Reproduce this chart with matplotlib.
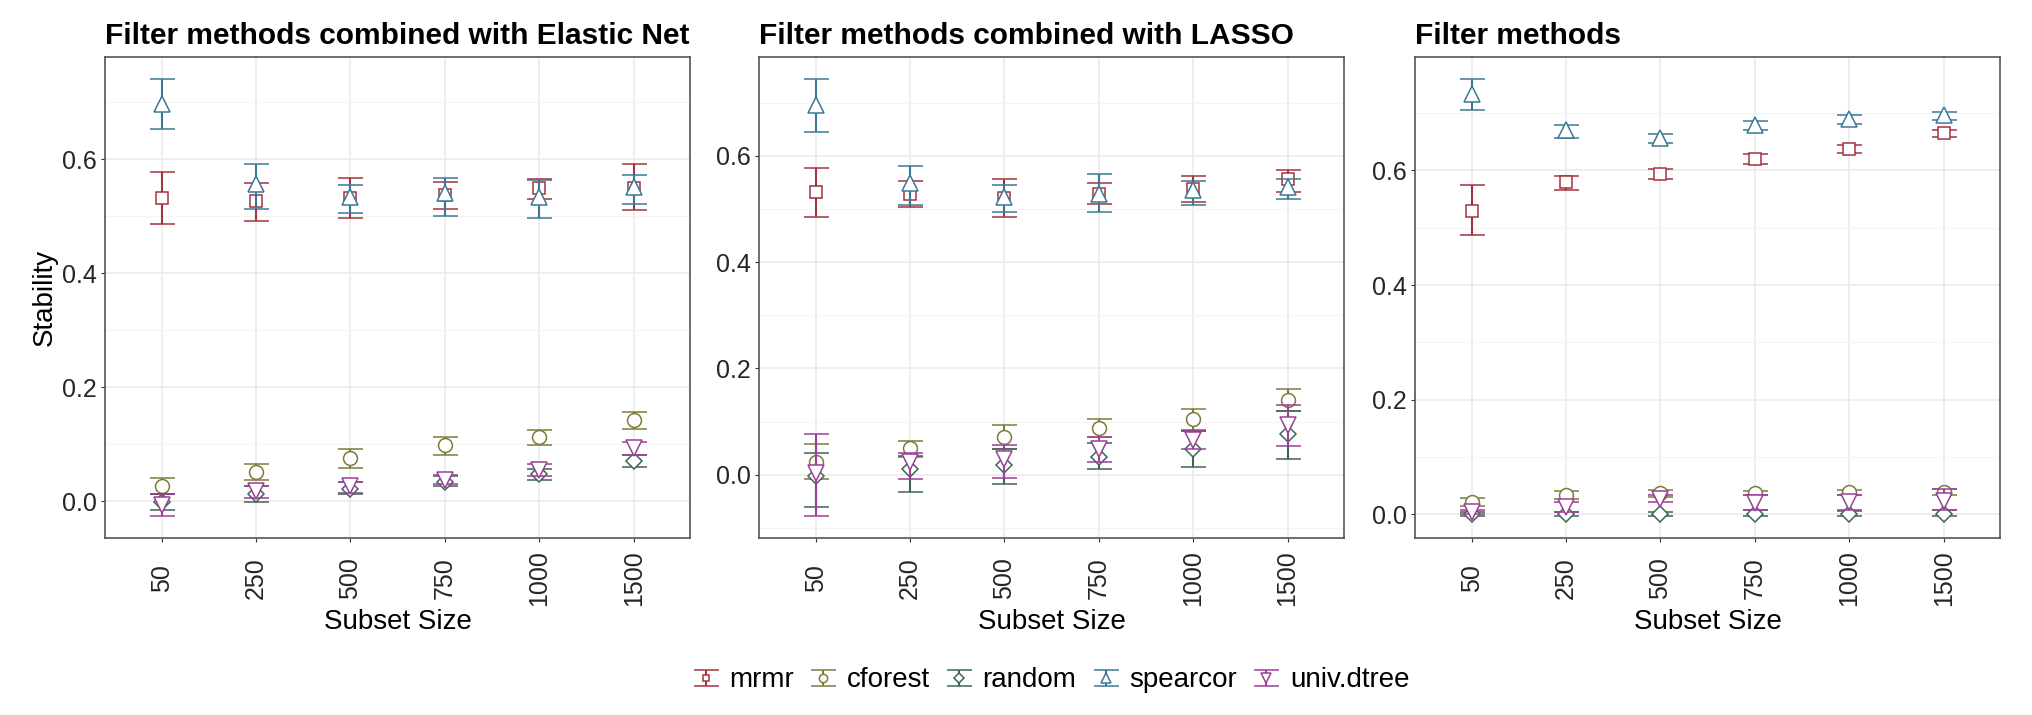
import numpy as np
import matplotlib
matplotlib.use("Agg")
from matplotlib import pyplot as plt
from matplotlib.ticker import FixedLocator, MultipleLocator
from matplotlib.container import ErrorbarContainer
from matplotlib.legend_handler import HandlerErrorbar

plt.rcParams['font.family'] = ['Liberation Sans', 'DejaVu Sans']

subset_sizes = ["50", "250", "500", "750", "1000", "1500"]
methods = ["mrmr", "cforest", "random", "spearcor", "univ.dtree"]
titles = ["Filter methods combined with Elastic Net",
          "Filter methods combined with LASSO",
          "Filter methods"]

# rows follow `methods`, columns follow `subset_sizes`
en_mean = [[0.532, 0.527, 0.532, 0.537, 0.550, 0.550],
           [0.027, 0.051, 0.076, 0.098, 0.113, 0.142],
           [-0.002, 0.012, 0.022, 0.034, 0.047, 0.071],
           [0.697, 0.557, 0.534, 0.540, 0.534, 0.552],
           [-0.007, 0.018, 0.027, 0.038, 0.055, 0.094]]
en_lo = [[0.486, 0.492, 0.496, 0.513, 0.530, 0.510],
         [0.013, 0.037, 0.059, 0.082, 0.099, 0.126],
         [-0.015, -0.002, 0.013, 0.026, 0.038, 0.060],
         [0.653, 0.512, 0.505, 0.501, 0.496, 0.521],
         [-0.026, 0.006, 0.015, 0.030, 0.044, 0.082]]
en_hi = [[0.578, 0.559, 0.567, 0.560, 0.565, 0.591],
         [0.040, 0.065, 0.092, 0.113, 0.125, 0.157],
         [0.012, 0.026, 0.033, 0.044, 0.056, 0.082],
         [0.740, 0.591, 0.555, 0.567, 0.563, 0.573],
         [0.012, 0.027, 0.034, 0.046, 0.065, 0.104]]

lasso_mean = [[0.532, 0.529, 0.520, 0.529, 0.538, 0.557],
              [0.024, 0.051, 0.071, 0.088, 0.104, 0.140],
              [-0.003, 0.010, 0.018, 0.034, 0.048, 0.076],
              [0.695, 0.548, 0.523, 0.529, 0.535, 0.542],
              [0.004, 0.023, 0.030, 0.048, 0.066, 0.094]]
lasso_lo = [[0.485, 0.504, 0.484, 0.509, 0.514, 0.532],
            [-0.008, 0.034, 0.048, 0.071, 0.083, 0.119],
            [-0.060, -0.033, -0.018, 0.010, 0.014, 0.030],
            [0.644, 0.507, 0.495, 0.495, 0.507, 0.519],
            [-0.078, -0.009, -0.006, 0.023, 0.048, 0.054]]
lasso_hi = [[0.578, 0.552, 0.556, 0.548, 0.562, 0.574],
            [0.058, 0.064, 0.093, 0.104, 0.123, 0.161],
            [0.040, 0.035, 0.048, 0.060, 0.083, 0.119],
            [0.744, 0.581, 0.546, 0.566, 0.552, 0.556],
            [0.077, 0.041, 0.056, 0.071, 0.085, 0.132]]

filt_mean = [[0.530, 0.580, 0.594, 0.620, 0.638, 0.665],
             [0.022, 0.034, 0.037, 0.037, 0.039, 0.039],
             [0.000, 0.000, 0.000, 0.000, 0.000, 0.000],
             [0.734, 0.670, 0.657, 0.680, 0.690, 0.696],
             [0.004, 0.013, 0.027, 0.020, 0.022, 0.024]]
filt_lo = [[0.487, 0.566, 0.585, 0.612, 0.631, 0.658],
           [0.014, 0.027, 0.030, 0.033, 0.033, 0.033],
           [-0.003, -0.002, -0.002, -0.002, -0.002, -0.002],
           [0.705, 0.657, 0.648, 0.670, 0.681, 0.688],
           [0.000, 0.004, 0.022, 0.008, 0.008, 0.008]]
filt_hi = [[0.575, 0.591, 0.603, 0.628, 0.644, 0.671],
           [0.029, 0.041, 0.042, 0.041, 0.043, 0.045],
           [0.004, 0.004, 0.005, 0.008, 0.006, 0.008],
           [0.759, 0.680, 0.664, 0.687, 0.696, 0.702],
           [0.008, 0.022, 0.033, 0.033, 0.033, 0.045]]

colors = ["#a3343e", "#7d7a3a", "#3d6657", "#3b7896", "#9c3f98"]
markers = ["s", "o", "D", "^", "v"]
msizes = [8, 10, 8, 11, 11]

panels = [(en_mean, en_lo, en_hi),
          (lasso_mean, lasso_lo, lasso_hi),
          (filt_mean, filt_lo, filt_hi)]

fig = plt.figure(figsize=(20.32, 7.15), dpi=100)
lefts = [0.0517, 0.3735, 0.6964]
width = 0.288
bottom = 0.2476
height = 0.672

x = np.arange(len(subset_sizes))
handles = []
for p, (mean, lo, hi) in enumerate(panels):
    ax = fig.add_axes([lefts[p], bottom, width, height])
    mean = np.array(mean)
    lo = np.array(lo)
    hi = np.array(hi)
    for i, m in enumerate(methods):
        err = [mean[i] - lo[i], hi[i] - mean[i]]
        h = ax.errorbar(x, mean[i], yerr=err, fmt=markers[i], linestyle='none',
                        color=colors[i], ecolor=colors[i], elinewidth=1.5,
                        capsize=9, capthick=1.5, markersize=msizes[i],
                        markerfacecolor='white', markeredgecolor=colors[i],
                        markeredgewidth=1.1, zorder=3 + i, label=m)
        if p == 0:
            handles.append(h)
    # ggplot-like 5% expansion
    ymin, ymax = lo.min(), hi.max()
    pad = 0.05 * (ymax - ymin)
    ax.set_ylim(ymin - pad, ymax + pad)
    ax.set_xlim(-0.6, len(subset_sizes) - 0.4)
    ax.set_xticks(x)
    ax.set_xticklabels(subset_sizes)
    ax.yaxis.set_major_locator(FixedLocator([0.0, 0.2, 0.4, 0.6]))
    ax.yaxis.set_minor_locator(MultipleLocator(0.1))
    ax.set_yticklabels(["0.0", "0.2", "0.4", "0.6"])
    ax.grid(True, which='major', color='#ebebeb', lw=1.2, zorder=0)
    ax.grid(True, which='minor', axis='y', color='#f4f4f4', lw=0.8, zorder=0)
    ax.set_axisbelow(True)
    ax.tick_params(axis='both', which='major', length=3, width=0.8,
                   color='#333333', labelsize=18, labelcolor='#262626')
    ax.tick_params(axis='y', which='minor', length=0)
    ax.tick_params(axis='y', pad=3)
    ax.tick_params(axis='x', labelrotation=90, pad=26)
    plt.setp(ax.get_xticklabels(), va='center')
    for s in ax.spines.values():
        s.set_color('#555555')
        s.set_linewidth(1.2)
    ax.set_title(titles[p], loc='left', fontsize=21.5, fontweight='bold', pad=10)
    fig.text(lefts[p] + width / 2, 0.130, "Subset Size", ha='center',
             va='center', fontsize=20)

fig.text(0.022, bottom + height / 2, "Stability", rotation=90, ha='center',
         va='center', fontsize=20)

fig.legend(handles=handles, labels=methods, loc='center', ncol=5,
           bbox_to_anchor=(0.518, 0.049), frameon=False, fontsize=20,
           handlelength=0.7, handleheight=0.5, handletextpad=0.5,
           columnspacing=0.7, markerscale=0.6,
           handler_map={ErrorbarContainer: HandlerErrorbar(yerr_size=0.3)})

fig.savefig("out.png", dpi=100)
